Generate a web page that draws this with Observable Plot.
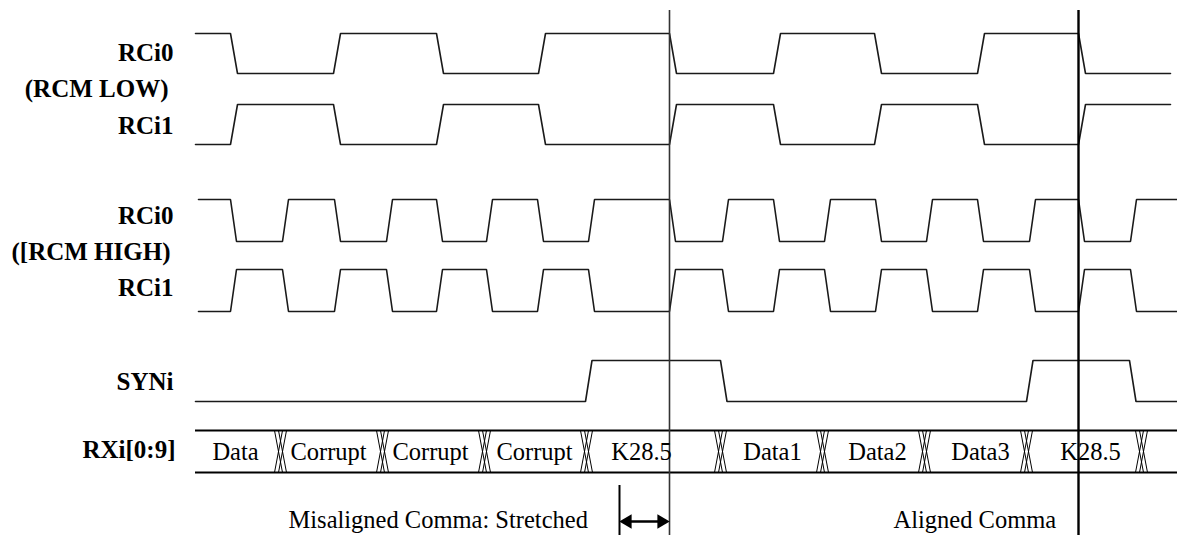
<!DOCTYPE html>
<html><head><meta charset="utf-8">
<script src="https://cdn.jsdelivr.net/npm/d3@7"></script>
<script src="https://cdn.jsdelivr.net/npm/@observablehq/plot@0.6"></script>
<style>body{margin:0;background:#fff} svg{display:block}</style>
</head><body><div id="chart"></div>
<script>
// ---- data: transition times (time axis in diagram units) ----
const signalLabels = ["RCi0", "(RCM LOW)", "RCi1", "RCi0", "([RCM HIGH)", "RCi1", "SYNi", "RXi[0:9]"];
const rcmLowEdges = [230, 333, 436, 538, 669, 773, 874, 977, 1078];
const rcmHighEdges = [230, 282, 334, 386, 436, 486, 537, 588, 669, 722, 773, 824, 875, 926, 977, 1029, 1078, 1130];
const synEdges = [585, 720, 1026, 1129];
const busCrossings = [280, 382, 484, 586, 720, 822, 924, 1026, 1141];
const busWords = ["Data", "Corrupt", "Corrupt", "Corrupt", "K28.5", "Data1", "Data2", "Data3", "K28.5"];
const busWordTimes = [235, 328, 430, 534, 641, 772, 877, 980, 1090];
const markerTimes = [669, 1078];
const stretchStart = 619;
const notes = ["Misaligned Comma: Stretched", "Aligned Comma"];
const noteTimes = [288, 893];

// ---- layout ----
const W = 1177, H = 535;
const lanes = [
  {id: "lowRC0", edges: rcmLowEdges, start: 1, hi: 33, lo: 73, t0: 195, t1: 1170, tr: 7},
  {id: "lowRC1", edges: rcmLowEdges, start: 0, hi: 104, lo: 144, t0: 195, t1: 1170, tr: 7},
  {id: "hiRC0", edges: rcmHighEdges, start: 1, hi: 199, lo: 241, t0: 198, t1: 1177, tr: 6},
  {id: "hiRC1", edges: rcmHighEdges, start: 0, hi: 269, lo: 311, t0: 198, t1: 1177, tr: 6},
  {id: "syn", edges: synEdges, start: 0, hi: 360, lo: 401, t0: 195, t1: 1177, tr: 6.5}
];
const labelPos = [
  {x: 173, y: 60}, {x: 168, y: 96}, {x: 173, y: 133},
  {x: 173, y: 223}, {x: 170, y: 259}, {x: 173, y: 295},
  {x: 173, y: 389}, {x: 175, y: 457}
];
const busTop = 430, busBot = 472, busT0 = 195, busT1 = 1177;

const wavePts = [];
for (const L of lanes) {
  let lvl = L.start;
  const yv = l => l ? L.hi : L.lo;
  wavePts.push({id: L.id, t: L.t0, y: yv(lvl)});
  for (const e of L.edges) {
    wavePts.push({id: L.id, t: e, y: yv(lvl)});
    lvl = 1 - lvl;
    wavePts.push({id: L.id, t: e + L.tr, y: yv(lvl)});
  }
  wavePts.push({id: L.id, t: L.t1, y: yv(lvl)});
}

const crossLinks = [];
for (const c of busCrossings) {
  for (const off of [-6, -2]) {
    crossLinks.push({x1: c + off, y1: busTop, x2: c + off + 8, y2: busBot});
    crossLinks.push({x1: c + off, y1: busBot, x2: c + off + 8, y2: busTop});
  }
}

const labels = signalLabels.map((s, i) => ({s, ...labelPos[i]}));
const words = busWords.map((s, i) => ({s, t: busWordTimes[i]}));
const noteData = notes.map((s, i) => ({s, t: noteTimes[i]}));

const serif = "'Liberation Serif', 'Times New Roman', serif";

const chart = Plot.plot({
  width: W, height: H, margin: 0,
  x: {domain: [0, W], axis: null},
  y: {domain: [H, 0], axis: null},
  style: {background: "#fff", overflow: "visible"},
  marks: [
    Plot.line(wavePts, {x: "t", y: "y", z: "id", stroke: "#1a1a1a", strokeWidth: 1.6, strokeLinejoin: "miter"}),
    Plot.ruleY([busTop, busBot], {x1: busT0, x2: busT1, stroke: "#000", strokeWidth: 2.2}),
    Plot.link(crossLinks, {x1: "x1", y1: "y1", x2: "x2", y2: "y2", stroke: "#000", strokeWidth: 1}),
    Plot.ruleX([markerTimes[0]], {y1: 10, y2: H, stroke: "#333", strokeWidth: 1.6}),
    Plot.ruleX([markerTimes[1]], {y1: 10, y2: H, stroke: "#000", strokeWidth: 2.4}),
    Plot.ruleX([stretchStart], {y1: 485, y2: H, stroke: "#000", strokeWidth: 2}),
    Plot.ruleY([521], {x1: stretchStart + 6, x2: markerTimes[0] - 6, stroke: "#000", strokeWidth: 2.5}),
    Plot.dot([{x: stretchStart, y: 521}], {x: "x", y: "y", symbol: "triangle", r: 5.3, rotate: -90, dx: 8, fill: "#000", stroke: "none"}),
    Plot.dot([{x: markerTimes[0], y: 521}], {x: "x", y: "y", symbol: "triangle", r: 5.3, rotate: 90, dx: -8, fill: "#000", stroke: "none"}),
    Plot.text(labels, {x: "x", y: "y", text: "s", textAnchor: "end", lineAnchor: "bottom", fontFamily: serif, fontSize: 25, fontWeight: "bold", fill: "#000"}),
    Plot.text(words, {x: "t", y: 459, text: "s", textAnchor: "middle", lineAnchor: "bottom", fontFamily: serif, fontSize: 24.5, fill: "#000"}),
    Plot.text(noteData, {x: "t", y: 527, text: "s", textAnchor: "start", lineAnchor: "bottom", fontFamily: serif, fontSize: 24.5, fill: "#000"})
  ]
});
document.getElementById("chart").appendChild(chart);
</script>
</body></html>
